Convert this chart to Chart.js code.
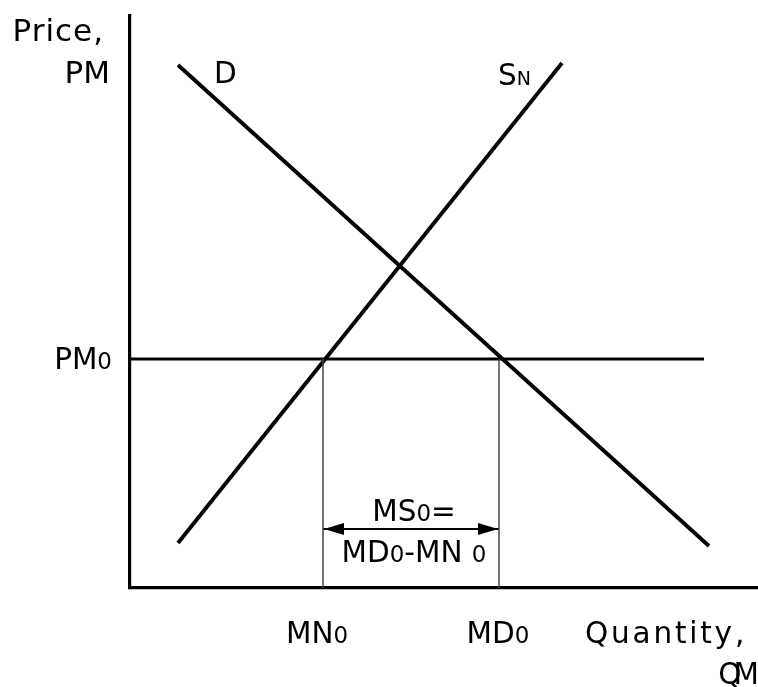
<!DOCTYPE html>
<html><head><meta charset="utf-8">
<script src="https://cdn.jsdelivr.net/npm/chart.js@4/dist/chart.umd.min.js"></script>
<style>html,body{margin:0;padding:0;background:#fff}#wrap{width:758px;height:687px}</style>
</head><body><div id="wrap"><canvas id="c"></canvas></div>
<script>
// ---- data (quantity / price units of the diagram) ----
const demandQty = [0.96, 11.58];
const demandPrice = [10.46, 0.84];
const supplyQty = [0.96, 8.64];
const supplyPrice = [0.90, 10.50];
const worldPrice = 4.58;            // PM0
const priceLineQty = [0, 11.48];
const domesticSupplyQty = 3.86;     // MN0
const domesticDemandQty = 7.38;     // MD0
const arrowPrice = 1.18;
const xMax = 12.56;
const yMax = 11.44;

const FONT = '"DejaVu Sans", "Noto Sans", sans-serif';
const BIG = 29.5, SUB = 23;

function pts(xs, ys) { return xs.map((x, i) => ({x: x, y: ys[i]})); }

function drawParts(ctx, parts, x, y, align, spacing) {
  ctx.save();
  ctx.letterSpacing = (spacing || 0) + 'px';
  let w = 0;
  parts.forEach(p => { ctx.font = p[1] + 'px ' + FONT; w += ctx.measureText(p[0]).width; });
  let cx = align === 'right' ? x - w : align === 'center' ? x - w / 2 : x;
  ctx.textAlign = 'left';
  ctx.textBaseline = 'alphabetic';
  ctx.fillStyle = '#000';
  parts.forEach(p => {
    ctx.font = p[1] + 'px ' + FONT;
    ctx.fillText(p[0], cx, y);
    cx += ctx.measureText(p[0]).width;
  });
  ctx.restore();
}

const annot = {
  id: 'annot',
  afterDatasetsDraw(chart) {
    const ctx = chart.ctx;
    const xs = chart.scales.x, ys = chart.scales.y;
    const ca = chart.chartArea;
    // arrow heads
    const ay = ys.getPixelForValue(arrowPrice);
    const xl = xs.getPixelForValue(domesticSupplyQty);
    const xr = xs.getPixelForValue(domesticDemandQty);
    ctx.save();
    ctx.fillStyle = '#000';
    ctx.beginPath();
    ctx.moveTo(xl + 1, ay); ctx.lineTo(xl + 21, ay - 6); ctx.lineTo(xl + 21, ay + 6); ctx.closePath();
    ctx.moveTo(xr - 1, ay); ctx.lineTo(xr - 21, ay - 6); ctx.lineTo(xr - 21, ay + 6); ctx.closePath();
    ctx.fill();
    ctx.restore();

    // axis titles
    drawParts(ctx, [['Price,', 31]], ca.left - 26, ca.top + 25, 'right', 1);
    drawParts(ctx, [['PM', 31]], ca.left - 20, ca.top + 67, 'right');
    drawParts(ctx, [['Quantity,', BIG]], 585, ca.bottom + 55, 'left', 2.8);
    drawParts(ctx, [['QM', BIG]], 751, ca.bottom + 96, 'right', -8);

    // curve labels
    drawParts(ctx, [['D', BIG]], xs.getPixelForValue(demandQty[0]) + 36, ys.getPixelForValue(demandPrice[0]) + 18, 'left');
    drawParts(ctx, [['S', BIG], ['N', 19]], xs.getPixelForValue(supplyQty[1]) - 64, ys.getPixelForValue(supplyPrice[1]) + 22, 'left');

    // price level
    drawParts(ctx, [['PM', BIG], ['0', SUB]], ca.left - 18, ys.getPixelForValue(worldPrice) + 10, 'right');
    // quantity levels
    drawParts(ctx, [['MN', BIG], ['0', SUB]], xl - 6, ca.bottom + 55, 'center');
    drawParts(ctx, [['MD', BIG], ['0', SUB]], xr - 1, ca.bottom + 55, 'center');

    // import quantity
    drawParts(ctx, [['MS', BIG], ['0', SUB], ['=', BIG]], (xl + xr) / 2 + 3, ay - 8, 'center');
    drawParts(ctx, [['MD', BIG], ['0', SUB], ['-MN ', BIG], ['0', SUB]], (xl + xr) / 2 + 3, ay + 33, 'center');
  }
};

const lineDs = (label, data, width, color) => ({
  label, data, showLine: true, borderColor: color, backgroundColor: color,
  borderWidth: width, pointRadius: 0, pointHoverRadius: 0, clip: false, tension: 0
});

new Chart(document.getElementById('c'), {
  type: 'scatter',
  data: {
    datasets: [
      lineDs('MN0 guide', pts([domesticSupplyQty, domesticSupplyQty], [0, worldPrice]), 1.5, '#444'),
      lineDs('MD0 guide', pts([domesticDemandQty, domesticDemandQty], [0, worldPrice]), 1.5, '#444'),
      lineDs('PM0', pts(priceLineQty, [worldPrice, worldPrice]), 3.2, '#000'),
      lineDs('D', pts(demandQty, demandPrice), 3.8, '#000'),
      lineDs('SN', pts(supplyQty, supplyPrice), 3.8, '#000'),
      lineDs('MS0', pts([domesticSupplyQty, domesticDemandQty], [arrowPrice, arrowPrice]), 2.2, '#000')
    ]
  },
  options: {
    responsive: true,
    maintainAspectRatio: false,
    animation: false,
    layout: { padding: { left: 130, top: 16, right: 0, bottom: 99 } },
    plugins: { legend: { display: false }, tooltip: { enabled: false } },
    scales: {
      x: {
        type: 'linear', min: 0, max: xMax,
        ticks: { display: false },
        grid: { display: false, drawTicks: false, tickLength: 0 },
        border: { display: true, color: '#000', width: 3.2 }
      },
      y: {
        type: 'linear', min: 0, max: yMax,
        ticks: { display: false },
        grid: { display: false, drawTicks: false, tickLength: 0 },
        border: { display: true, color: '#000', width: 3.2 }
      }
    }
  },
  plugins: [annot]
});
</script>
</body></html>
